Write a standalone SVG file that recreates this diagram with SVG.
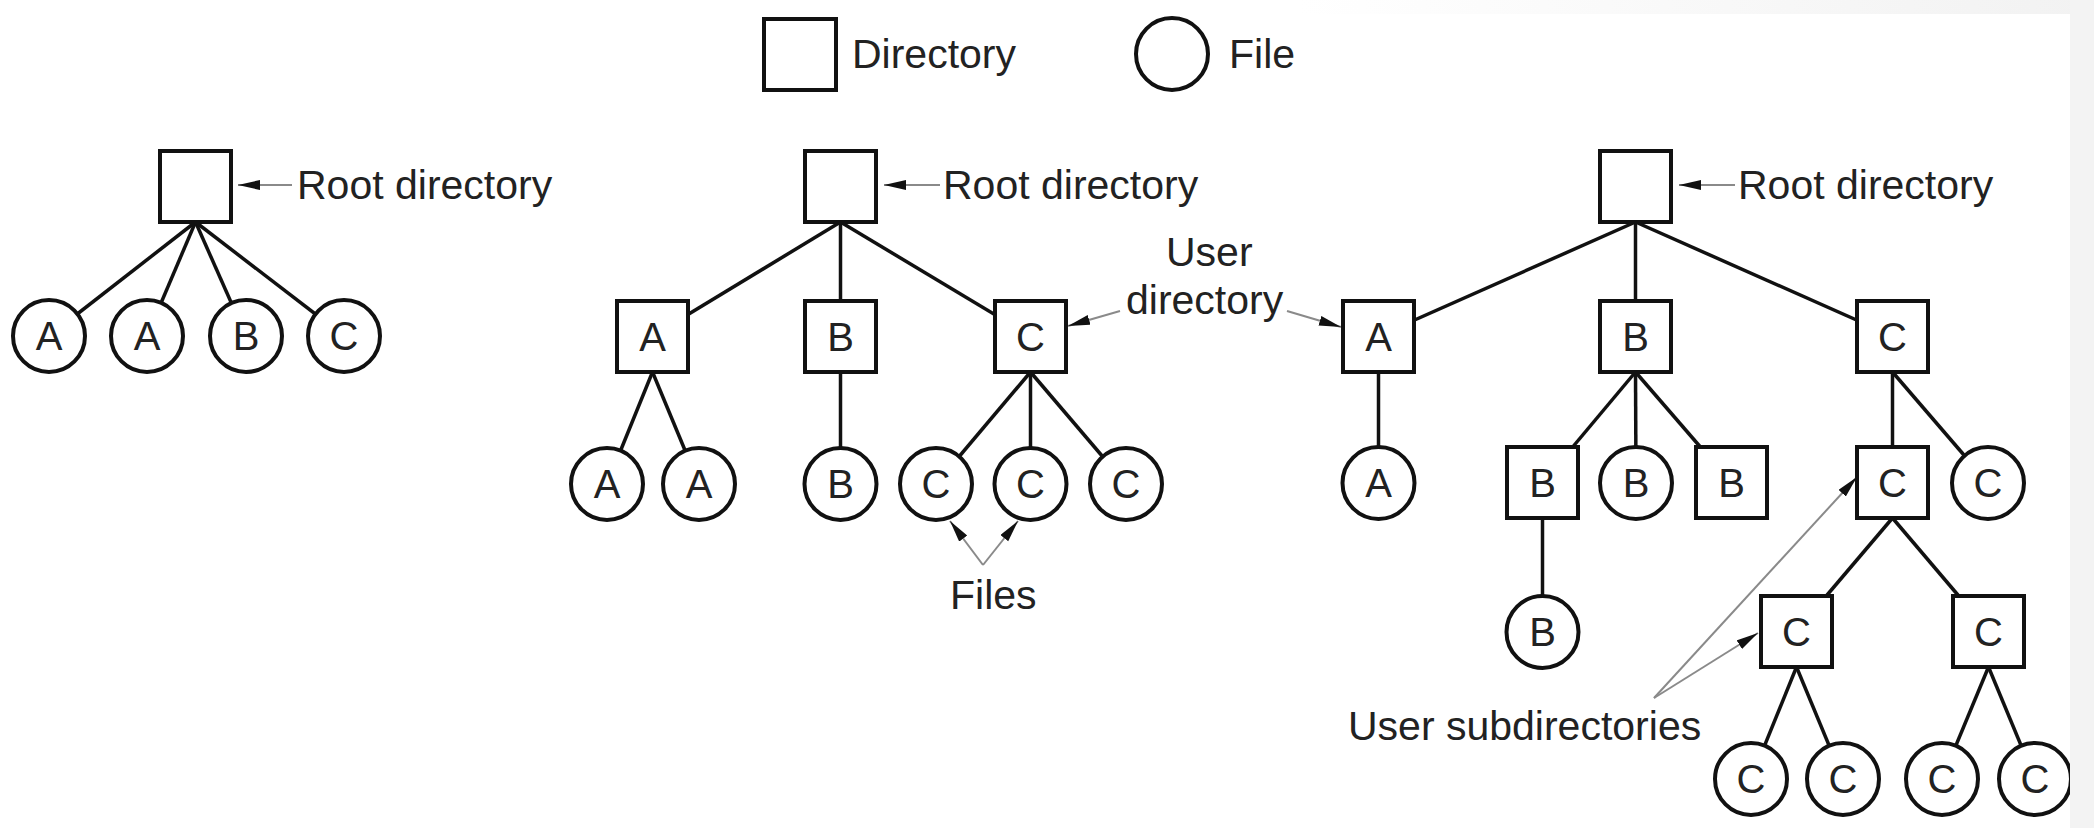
<svg xmlns="http://www.w3.org/2000/svg" width="2094" height="828" viewBox="0 0 2094 828">
<defs>
<style>
.edge{stroke:#111;stroke-width:3.5;fill:none}
.ptr{stroke:#8a8a8a;stroke-width:2;fill:none}
.dir{fill:#fff;stroke:#111;stroke-width:4}
.file{fill:#fff;stroke:#111;stroke-width:4}
.lbl{font-family:"Liberation Sans",Arial,sans-serif;font-size:40px;fill:#222;text-anchor:middle}
.txt{font-family:"Liberation Sans",Arial,sans-serif;font-size:41px;fill:#222}
</style>
<marker id="ah" markerUnits="userSpaceOnUse" markerWidth="24" markerHeight="12" refX="22" refY="5" orient="auto">
<path d="M0,0 L22,5 L0,10 Z" fill="#111"/>
</marker>
<linearGradient id="topg" x1="0" y1="0" x2="1" y2="0">
<stop offset="0" stop-color="#ffffff"/>
<stop offset="1" stop-color="#f2f2f2"/>
</linearGradient>
</defs>
<rect width="2094" height="828" fill="#fff"/>

<g id="connectors">
<!-- left tree -->
<line class="edge" x1="195.5" y1="222" x2="49" y2="336"/>
<line class="edge" x1="195.5" y1="222" x2="147" y2="336"/>
<line class="edge" x1="195.5" y1="222" x2="246" y2="336"/>
<line class="edge" x1="195.5" y1="222" x2="344" y2="336"/>
<!-- middle tree -->
<line class="edge" x1="840.5" y1="222" x2="652.5" y2="336"/>
<line class="edge" x1="840.5" y1="222" x2="840.5" y2="336"/>
<line class="edge" x1="840.5" y1="222" x2="1030.5" y2="336"/>
<line class="edge" x1="652.5" y1="372" x2="607" y2="484"/>
<line class="edge" x1="652.5" y1="372" x2="699" y2="484"/>
<line class="edge" x1="840.5" y1="372" x2="840.5" y2="484"/>
<line class="edge" x1="1030.5" y1="372" x2="936" y2="484"/>
<line class="edge" x1="1030.5" y1="372" x2="1030.5" y2="484"/>
<line class="edge" x1="1030.5" y1="372" x2="1126" y2="484"/>
<!-- right tree -->
<line class="edge" x1="1635.5" y1="222" x2="1378.5" y2="336"/>
<line class="edge" x1="1635.5" y1="222" x2="1635.5" y2="336"/>
<line class="edge" x1="1635.5" y1="222" x2="1892.5" y2="336"/>
<line class="edge" x1="1378.5" y1="372" x2="1378.5" y2="483"/>
<line class="edge" x1="1635.5" y1="372" x2="1542.5" y2="483"/>
<line class="edge" x1="1635.5" y1="372" x2="1636" y2="483"/>
<line class="edge" x1="1635.5" y1="372" x2="1731.5" y2="483"/>
<line class="edge" x1="1892.5" y1="372" x2="1892.5" y2="483"/>
<line class="edge" x1="1892.5" y1="372" x2="1988" y2="483"/>
<line class="edge" x1="1542.5" y1="518" x2="1542.5" y2="632"/>
<line class="edge" x1="1892.5" y1="518" x2="1796.5" y2="631"/>
<line class="edge" x1="1892.5" y1="518" x2="1988.5" y2="631"/>
<line class="edge" x1="1796.5" y1="667" x2="1751" y2="779"/>
<line class="edge" x1="1796.5" y1="667" x2="1843" y2="779"/>
<line class="edge" x1="1988.5" y1="667" x2="1942" y2="779"/>
<line class="edge" x1="1988.5" y1="667" x2="2035" y2="779"/>
<!-- label pointers -->
<line class="ptr" x1="292" y1="185" x2="238" y2="185" marker-end="url(#ah)"/>
<line class="ptr" x1="940" y1="185" x2="884" y2="185" marker-end="url(#ah)"/>
<line class="ptr" x1="1735" y1="185" x2="1679" y2="185" marker-end="url(#ah)"/>
<line class="ptr" x1="1120" y1="311" x2="1068" y2="326" marker-end="url(#ah)"/>
<line class="ptr" x1="1287" y1="311" x2="1341" y2="327" marker-end="url(#ah)"/>
<line class="ptr" x1="983" y1="565" x2="950" y2="521" marker-end="url(#ah)"/>
<line class="ptr" x1="983" y1="565" x2="1018" y2="521" marker-end="url(#ah)"/>
<line class="ptr" x1="1654" y1="698" x2="1857" y2="477" marker-end="url(#ah)"/>
<line class="ptr" x1="1654" y1="698" x2="1758" y2="633" marker-end="url(#ah)"/>
</g>

<g id="legend">
<rect class="dir" x="764" y="19" width="72" height="71"/>
<text class="txt" x="852" y="68">Directory</text>
<ellipse class="file" cx="1172" cy="54" rx="36" ry="36"/>
<text class="txt" x="1229" y="68">File</text>
</g>

<g id="left-tree">
<g id="l-root"><rect class="dir" x="160" y="151" width="71" height="71"/></g>
<g id="l-f1"><circle class="file" cx="49" cy="336" r="36"/><text class="lbl" x="49" y="350">A</text></g>
<g id="l-f2"><circle class="file" cx="147" cy="336" r="36"/><text class="lbl" x="147" y="350">A</text></g>
<g id="l-f3"><circle class="file" cx="246" cy="336" r="36"/><text class="lbl" x="246" y="350">B</text></g>
<g id="l-f4"><circle class="file" cx="344" cy="336" r="36"/><text class="lbl" x="344" y="350">C</text></g>
<text class="txt" x="297" y="199">Root directory</text>
</g>

<g id="middle-tree">
<g id="m-root"><rect class="dir" x="805" y="151" width="71" height="71"/></g>
<g id="m-dA"><rect class="dir" x="617" y="301" width="71" height="71"/><text class="lbl" x="652.5" y="351">A</text></g>
<g id="m-dB"><rect class="dir" x="805" y="301" width="71" height="71"/><text class="lbl" x="840.5" y="351">B</text></g>
<g id="m-dC"><rect class="dir" x="995" y="301" width="71" height="71"/><text class="lbl" x="1030.5" y="351">C</text></g>
<g id="m-f1"><circle class="file" cx="607" cy="484" r="36"/><text class="lbl" x="607" y="498">A</text></g>
<g id="m-f2"><circle class="file" cx="699" cy="484" r="36"/><text class="lbl" x="699" y="498">A</text></g>
<g id="m-f3"><circle class="file" cx="840.5" cy="484" r="36"/><text class="lbl" x="840.5" y="498">B</text></g>
<g id="m-f4"><circle class="file" cx="936" cy="484" r="36"/><text class="lbl" x="936" y="498">C</text></g>
<g id="m-f5"><circle class="file" cx="1030.5" cy="484" r="36"/><text class="lbl" x="1030.5" y="498">C</text></g>
<g id="m-f6"><circle class="file" cx="1126" cy="484" r="36"/><text class="lbl" x="1126" y="498">C</text></g>
<text class="txt" x="943" y="199">Root directory</text>
<text class="txt" x="1166" y="266">User</text>
<text class="txt" x="1126" y="314">directory</text>
<text class="txt" x="950" y="609">Files</text>
</g>

<g id="right-tree">
<g id="r-root"><rect class="dir" x="1600" y="151" width="71" height="71"/></g>
<g id="r-dA"><rect class="dir" x="1343" y="301" width="71" height="71"/><text class="lbl" x="1378.5" y="351">A</text></g>
<g id="r-dB"><rect class="dir" x="1600" y="301" width="71" height="71"/><text class="lbl" x="1635.5" y="351">B</text></g>
<g id="r-dC"><rect class="dir" x="1857" y="301" width="71" height="71"/><text class="lbl" x="1892.5" y="351">C</text></g>
<g id="r-fA"><circle class="file" cx="1378.5" cy="483" r="36"/><text class="lbl" x="1378.5" y="497">A</text></g>
<g id="r-dB1"><rect class="dir" x="1507" y="447" width="71" height="71"/><text class="lbl" x="1542.5" y="497">B</text></g>
<g id="r-fB"><circle class="file" cx="1636" cy="483" r="36"/><text class="lbl" x="1636" y="497">B</text></g>
<g id="r-dB2"><rect class="dir" x="1696" y="447" width="71" height="71"/><text class="lbl" x="1731.5" y="497">B</text></g>
<g id="r-dC1"><rect class="dir" x="1857" y="447" width="71" height="71"/><text class="lbl" x="1892.5" y="497">C</text></g>
<g id="r-fC"><circle class="file" cx="1988" cy="483" r="36"/><text class="lbl" x="1988" y="497">C</text></g>
<g id="r-fB2"><circle class="file" cx="1542.5" cy="632" r="36"/><text class="lbl" x="1542.5" y="646">B</text></g>
<g id="r-dC2"><rect class="dir" x="1761" y="596" width="71" height="71"/><text class="lbl" x="1796.5" y="646">C</text></g>
<g id="r-dC3"><rect class="dir" x="1953" y="596" width="71" height="71"/><text class="lbl" x="1988.5" y="646">C</text></g>
<g id="r-f1"><circle class="file" cx="1751" cy="779" r="36"/><text class="lbl" x="1751" y="793">C</text></g>
<g id="r-f2"><circle class="file" cx="1843" cy="779" r="36"/><text class="lbl" x="1843" y="793">C</text></g>
<g id="r-f3"><circle class="file" cx="1942" cy="779" r="36"/><text class="lbl" x="1942" y="793">C</text></g>
<g id="r-f4"><circle class="file" cx="2035" cy="779" r="36"/><text class="lbl" x="2035" y="793">C</text></g>
<text class="txt" x="1738" y="199">Root directory</text>
<text class="txt" x="1348" y="740">User subdirectories</text>
</g>

<rect x="1300" y="0" width="794" height="14" fill="url(#topg)"/>
<rect x="2070" y="0" width="24" height="828" fill="#f3f3f3"/>
</svg>
